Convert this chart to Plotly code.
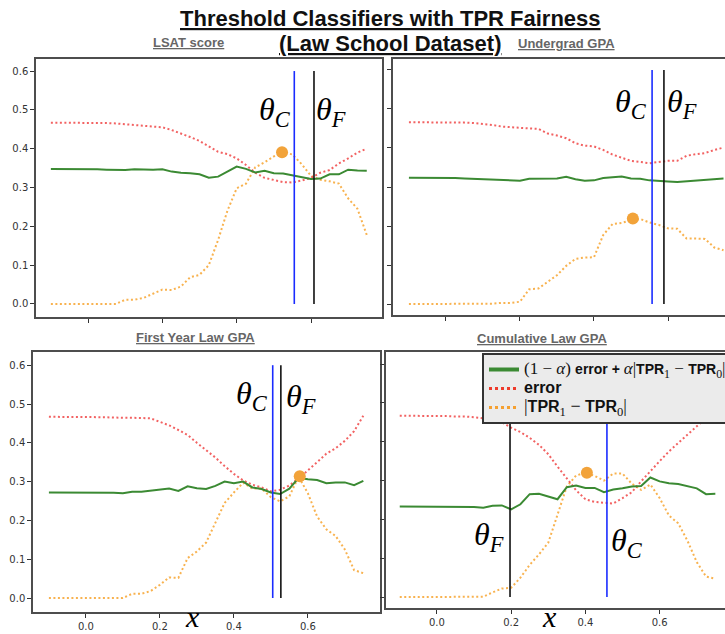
import plotly.graph_objects as go

# ---------------- data ----------------
thresholds = [-0.1, -0.075, -0.05, -0.025, 0.0, 0.025, 0.05, 0.075, 0.1, 0.125,
              0.15, 0.175, 0.2, 0.225, 0.25, 0.275, 0.3, 0.325, 0.35, 0.375,
              0.4, 0.425, 0.45, 0.475, 0.5, 0.525, 0.55, 0.575, 0.6, 0.625,
              0.65, 0.675, 0.7, 0.725, 0.75]

features = ["LSAT score", "Undergrad GPA", "First Year Law GPA", "Cumulative Law GPA"]

lsat_error = [0.467, 0.467, 0.467, 0.467, 0.466, 0.466, 0.466, 0.465, 0.463, 0.462,
              0.459, 0.457, 0.455, 0.448, 0.440, 0.430, 0.420, 0.405, 0.392, 0.386,
              0.375, 0.358, 0.338, 0.325, 0.320, 0.314, 0.313, 0.318, 0.325, 0.338,
              0.345, 0.362, 0.375, 0.390, 0.400]
lsat_objective = [0.348, 0.348, 0.348, 0.348, 0.347, 0.347, 0.346, 0.346, 0.345, 0.347,
                  0.346, 0.346, 0.347, 0.341, 0.338, 0.337, 0.334, 0.325, 0.328, 0.342,
                  0.354, 0.348, 0.339, 0.343, 0.337, 0.336, 0.331, 0.326, 0.322, 0.323,
                  0.334, 0.334, 0.346, 0.344, 0.343]
lsat_tpr_gap = [0.0, 0.0, 0.0, 0.0, 0.0, 0.0, 0.0, 0.0, 0.011, 0.011,
                0.016, 0.027, 0.037, 0.036, 0.045, 0.069, 0.075, 0.100, 0.165, 0.240,
                0.298, 0.310, 0.352, 0.365, 0.380, 0.391, 0.385, 0.360, 0.330, 0.320,
                0.316, 0.310, 0.272, 0.245, 0.178]

ugpa_error = [0.466, 0.466, 0.466, 0.466, 0.466, 0.465, 0.465, 0.464, 0.462, 0.459,
              0.455, 0.453, 0.451, 0.450, 0.449, 0.437, 0.432, 0.425, 0.412, 0.406,
              0.404, 0.395, 0.383, 0.375, 0.367, 0.364, 0.361, 0.364, 0.367, 0.367,
              0.380, 0.384, 0.387, 0.395, 0.401]
ugpa_objective = [0.324, 0.324, 0.324, 0.324, 0.323, 0.323, 0.322, 0.321, 0.320, 0.318,
                  0.317, 0.316, 0.316, 0.321, 0.321, 0.322, 0.322, 0.326, 0.320, 0.316,
                  0.317, 0.323, 0.325, 0.327, 0.322, 0.321, 0.317, 0.315, 0.314, 0.313,
                  0.315, 0.317, 0.318, 0.320, 0.322]
ugpa_tpr_gap = [0.0, 0.0, 0.0, 0.0, 0.0, 0.0, 0.0, 0.0, 0.0, 0.001,
                0.003, 0.003, 0.006, 0.038, 0.040, 0.058, 0.074, 0.098, 0.116, 0.119,
                0.120, 0.177, 0.205, 0.208, 0.215, 0.218, 0.209, 0.203, 0.194, 0.193,
                0.168, 0.168, 0.167, 0.145, 0.138]

fygpa_error = [0.467, 0.467, 0.467, 0.467, 0.466, 0.466, 0.466, 0.465, 0.465, 0.465,
               0.464, 0.463, 0.455, 0.445, 0.433, 0.420, 0.400, 0.382, 0.362, 0.340,
               0.320, 0.303, 0.292, 0.285, 0.275, 0.279, 0.290, 0.308, 0.328, 0.350,
               0.372, 0.386, 0.405, 0.430, 0.470]
fygpa_objective = [0.272, 0.272, 0.272, 0.272, 0.272, 0.272, 0.271, 0.271, 0.270, 0.274,
                   0.274, 0.277, 0.280, 0.282, 0.276, 0.288, 0.283, 0.281, 0.289, 0.300,
                   0.296, 0.300, 0.285, 0.281, 0.272, 0.268, 0.282, 0.310, 0.306, 0.304,
                   0.296, 0.298, 0.298, 0.291, 0.302]
fygpa_tpr_gap = [0.0, 0.0, 0.0, 0.0, 0.0, 0.0, 0.0, 0.0, 0.0, 0.011,
                 0.011, 0.018, 0.034, 0.053, 0.052, 0.103, 0.120, 0.143, 0.195, 0.245,
                 0.272, 0.297, 0.282, 0.282, 0.260, 0.249, 0.262, 0.313, 0.270, 0.210,
                 0.177, 0.160, 0.125, 0.072, 0.064]

cgpa_error = [0.467, 0.467, 0.467, 0.466, 0.466, 0.466, 0.465, 0.465, 0.463, 0.461,
              0.458, 0.450, 0.436, 0.425, 0.410, 0.392, 0.368, 0.336, 0.305, 0.275,
              0.252, 0.245, 0.243, 0.241, 0.255, 0.270, 0.298, 0.325, 0.350, 0.375,
              0.397, 0.418, 0.440, 0.460, 0.484]
cgpa_objective = [0.233, 0.233, 0.233, 0.233, 0.233, 0.233, 0.232, 0.232, 0.232, 0.230,
                  0.235, 0.236, 0.226, 0.239, 0.265, 0.266, 0.259, 0.252, 0.283, 0.287,
                  0.281, 0.281, 0.270, 0.277, 0.280, 0.285, 0.286, 0.308, 0.298, 0.293,
                  0.291, 0.286, 0.280, 0.265, 0.266]
cgpa_tpr_gap = [0.0, 0.0, 0.0, 0.0, 0.0, 0.0, 0.0, 0.0, 0.0, 0.001,
                0.012, 0.022, 0.024, 0.050, 0.083, 0.110, 0.140, 0.210, 0.285, 0.313,
                0.320, 0.312, 0.300, 0.318, 0.318, 0.292, 0.276, 0.290, 0.255, 0.210,
                0.190, 0.145, 0.090, 0.053, 0.047]

theta_c = [0.555, 0.557, 0.505, 0.458]
theta_f = [0.608, 0.589, 0.527, 0.197]
peak_x = [0.522, 0.505, 0.578, 0.404]
peak_y = [0.391, 0.219, 0.314, 0.320]

y_ticks = [0.0, 0.1, 0.2, 0.3, 0.4, 0.5, 0.6]
y_tick_labels = ["0.0", "0.1", "0.2", "0.3", "0.4", "0.5", "0.6"]
x_ticks = [0.0, 0.2, 0.4, 0.6]
x_tick_labels = ["0.0", "0.2", "0.4", "0.6"]

errors = [lsat_error, ugpa_error, fygpa_error, cgpa_error]
objectives = [lsat_objective, ugpa_objective, fygpa_objective, cgpa_objective]
gaps = [lsat_tpr_gap, ugpa_tpr_gap, fygpa_tpr_gap, cgpa_tpr_gap]

# ---------------- styling / layout ----------------
W, H = 725, 634
GREEN = "#3b8a33"
RED = "rgba(240,70,70,0.85)"
ORANGE = "rgba(247,170,60,0.9)"
DOT = "#f2a33a"
FRAME = "#4d4d4d"

panels = [
    dict(x0=36, x1=382, y0=59, y1=317, xr=[-0.140, 0.791], yr=[-0.0335, 0.631],
         xlab=False, ylab=True),
    dict(x0=393, x1=725, y0=59, y1=315, xr=[-0.143, 0.754], yr=[-0.028, 0.628],
         xlab=False, ylab=False),
    dict(x0=33, x1=380, y0=352, y1=612, xr=[-0.143, 0.795], yr=[-0.036, 0.634],
         xlab=True, ylab=True),
    dict(x0=386, x1=725, y0=352, y1=608, xr=[-0.137, 0.776], yr=[-0.028, 0.631],
         xlab=True, ylab=False),
]


def px(x):
    return x / W


def py(y):
    return 1 - y / H


fig = go.Figure()
layout = dict(width=W, height=H, margin=dict(l=0, r=0, t=0, b=0, autoexpand=False),
              paper_bgcolor="white", plot_bgcolor="white", showlegend=True)

tick_font = dict(family="DejaVu Sans", size=10, color="#333333")

for i, p in enumerate(panels):
    sfx = "" if i == 0 else str(i + 1)
    xa, ya = "x" + sfx, "y" + sfx
    layout["xaxis" + sfx] = dict(
        domain=[px(p["x0"]), px(p["x1"])], anchor=ya, range=p["xr"],
        tickvals=x_ticks, ticktext=x_tick_labels, showticklabels=p["xlab"],
        ticks="outside", ticklen=4, tickcolor="#333", tickwidth=1,
        showgrid=False, zeroline=False, showline=True, mirror=True,
        linecolor=FRAME, linewidth=1.5, tickfont=tick_font)
    layout["yaxis" + sfx] = dict(
        domain=[py(p["y1"]), py(p["y0"])], anchor=xa, range=p["yr"],
        tickvals=y_ticks, ticktext=y_tick_labels, showticklabels=p["ylab"],
        ticks="outside", ticklen=4, tickcolor="#333", tickwidth=1,
        showgrid=False, zeroline=False, showline=True, mirror=True,
        linecolor=FRAME, linewidth=1.5, tickfont=tick_font)

    fig.add_trace(go.Scatter(x=thresholds, y=gaps[i], mode="lines", xaxis=xa, yaxis=ya,
                             line=dict(color=ORANGE, width=2, dash="2px,2.5px"),
                             showlegend=False, hoverinfo="skip"))
    fig.add_trace(go.Scatter(x=thresholds, y=errors[i], mode="lines", xaxis=xa, yaxis=ya,
                             line=dict(color=RED, width=2, dash="2px,2.5px"),
                             showlegend=False, hoverinfo="skip"))
    fig.add_trace(go.Scatter(x=thresholds, y=objectives[i], mode="lines", xaxis=xa, yaxis=ya,
                             line=dict(color=GREEN, width=2),
                             showlegend=False, hoverinfo="skip"))
    fig.add_trace(go.Scatter(x=[theta_c[i], theta_c[i]], y=[y_ticks[0], y_ticks[-1]],
                             mode="lines", xaxis=xa, yaxis=ya,
                             line=dict(color="#1a2cff", width=1.6),
                             showlegend=False, hoverinfo="skip"))
    fig.add_trace(go.Scatter(x=[theta_f[i], theta_f[i]], y=[y_ticks[0], y_ticks[-1]],
                             mode="lines", xaxis=xa, yaxis=ya,
                             line=dict(color="#111111", width=1.6),
                             showlegend=False, hoverinfo="skip"))
    fig.add_trace(go.Scatter(x=[peak_x[i]], y=[peak_y[i]], mode="markers",
                             xaxis=xa, yaxis=ya,
                             marker=dict(color=DOT, size=12),
                             showlegend=False, hoverinfo="skip"))

# legend-only entries
SERIF = "Liberation Serif"


def serif(t, size):
    return '<span style="font-family:%s;font-size:%dpx">%s</span>' % (SERIF, size, t)


def sans(t, size):
    return '<span style="font-size:%dpx"><b>%s</b></span>' % (size, t)


leg1 = (serif("(1 − <i>α</i>) ", 17) + sans("error + ", 14) + serif("<i>α</i>|", 17)
        + sans("TPR", 14) + serif("<sub>1</sub> − ", 17) + sans("TPR", 14)
        + serif("<sub>0</sub>|", 17))
leg2 = sans("error", 16)
leg3 = (serif("|", 18) + sans("TPR", 16) + serif("<sub>1</sub> − ", 18) + sans("TPR", 16)
        + serif("<sub>0</sub>|", 18))
fig.add_trace(go.Scatter(x=[None], y=[None], mode="lines", name=leg1,
                         line=dict(color=GREEN, width=4)))
fig.add_trace(go.Scatter(x=[None], y=[None], mode="lines", name=leg2,
                         line=dict(color="#ee3a2a", width=3, dash="3px,3px")))
fig.add_trace(go.Scatter(x=[None], y=[None], mode="lines", name=leg3,
                         line=dict(color="#f5a030", width=3, dash="3px,3px")))

layout["legend"] = dict(x=px(482), y=py(353), xanchor="left", yanchor="top",
                        bgcolor="#ebebeb", bordercolor="#333333", borderwidth=2,
                        font=dict(family="Liberation Sans", size=12, color="#111"),
                        tracegroupgap=0, itemwidth=30)

annotations = []
# main title
title_font = dict(family="Liberation Sans Narrow, Liberation Sans, Arial", size=22, color="#111")
annotations.append(dict(text="<b><u>Threshold Classifiers with TPR Fairness</u></b>",
                        x=px(390), y=py(18), xref="paper", yref="paper",
                        showarrow=False, xanchor="center", yanchor="middle", font=title_font))
annotations.append(dict(text="<b><u>(Law School Dataset)</u></b>",
                        x=px(390), y=py(43), xref="paper", yref="paper",
                        showarrow=False, xanchor="center", yanchor="middle", font=title_font))
# subplot titles
sub_font = dict(family="Liberation Sans Narrow, Liberation Sans, Arial", size=13, color="#666666")
sub_pos = [(188, 42), (566, 43), (195, 337), (542, 338)]
for name, (sx, sy) in zip(features, sub_pos):
    annotations.append(dict(text="<b><u>%s</u></b>" % name, x=px(sx), y=py(sy),
                            xref="paper", yref="paper", showarrow=False,
                            xanchor="center", yanchor="middle", font=sub_font))

# theta labels
th_font = dict(family=SERIF, size=32, color="#000")
theta_pos = [("C", 275, 111), ("F", 331, 111), ("C", 631, 103), ("F", 682, 104),
             ("C", 252, 395), ("F", 301, 398), ("F", 489, 536), ("C", 627, 542)]
for sub, tx, ty in theta_pos:
    annotations.append(dict(text="<i>θ<sub>%s</sub></i>" % sub, x=px(tx), y=py(ty),
                            xref="paper", yref="paper", showarrow=False,
                            xanchor="center", yanchor="middle", font=th_font))
for tx in (192, 549):
    annotations.append(dict(text="<i>x</i>", x=px(tx), y=0, xref="paper",
                            yref="paper", showarrow=False, xanchor="center",
                            yanchor="bottom", borderpad=0,
                            font=dict(family=SERIF, size=30, color="#000")))

layout["annotations"] = annotations
fig.update_layout(**layout)

fig.write_html("out.html", config={"displayModeBar": False},
               post_script="document.body.style.margin='0';")
